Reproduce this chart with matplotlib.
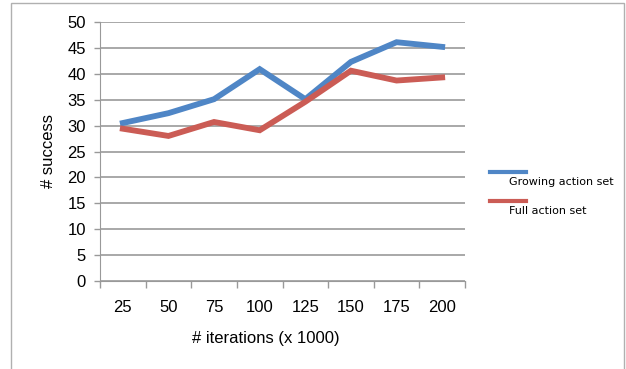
import matplotlib
matplotlib.use('Agg')
import matplotlib.pyplot as plt
from matplotlib.lines import Line2D
from matplotlib.patches import Rectangle
import numpy as np

iterations = ['25', '50', '75', '100', '125', '150', '175', '200']
growing = [30.5, 32.4, 35.1, 40.9, 35.1, 42.3, 46.1, 45.2]
full = [29.4, 28.0, 30.7, 29.1, 34.6, 40.6, 38.7, 39.3]
series_names = ['Growing action set', 'Full action set']
colors = ['#4F86C6', '#CB5C55']

plt.rcParams['font.family'] = ['Liberation Sans', 'DejaVu Sans']

fig = plt.figure(figsize=(6.26, 3.69), dpi=100)
ax = fig.add_axes([100 / 626, 1 - 281 / 369, 365 / 626, 259 / 369])

x = np.arange(len(iterations))
ax.plot(x, growing, color=colors[0], lw=4.2, solid_joinstyle='miter', zorder=3)
ax.plot(x, full, color=colors[1], lw=4.2, solid_joinstyle='miter', zorder=3)

ax.set_xlim(-0.5, len(iterations) - 0.5)
ax.set_ylim(0, 50)
ax.set_yticks(np.arange(0, 51, 5))
ax.set_xticks(x)
ax.set_xticklabels(iterations)
ax.set_xticks(np.arange(-0.5, len(iterations)), minor=True)
ax.tick_params(axis='x', which='major', length=0, pad=14, labelsize=12)
ax.tick_params(axis='x', which='minor', length=5, color='#999999', width=1)
ax.tick_params(axis='y', length=4, color='#999999', width=1, labelsize=12, pad=6)
ax.grid(axis='y', color='#999999', lw=1.2)
ax.set_axisbelow(True)
for side in ['top', 'right']:
    ax.spines[side].set_visible(False)
for side in ['left', 'bottom']:
    ax.spines[side].set_color('#999999')
ax.set_xlabel('# iterations (x 1000)', fontsize=12)
ax.xaxis.set_label_coords(166 / 365, -50 / 259)
ax.set_ylabel('# success', fontsize=12)
ax.yaxis.set_label_coords(-44 / 365, 0.5)

# legend drawn by hand: line above its text
for i, (name, c) in enumerate(zip(series_names, colors)):
    ly = 1 - (172 + 29 * i) / 369
    fig.add_artist(Line2D([490 / 626, 526 / 626], [ly, ly], color=c, lw=3,
                          transform=fig.transFigure))
    fig.text(509 / 626, ly - 10 / 369, name, fontsize=8, va='center',
             family=['DejaVu Sans'])

# chart frame
fig.add_artist(Rectangle((11 / 626, -0.05), 613 / 626, 1.05 - 3 / 369,
                         transform=fig.transFigure, fill=False,
                         edgecolor='#b0b0b0', lw=1))

fig.savefig('out.png', dpi=100)
